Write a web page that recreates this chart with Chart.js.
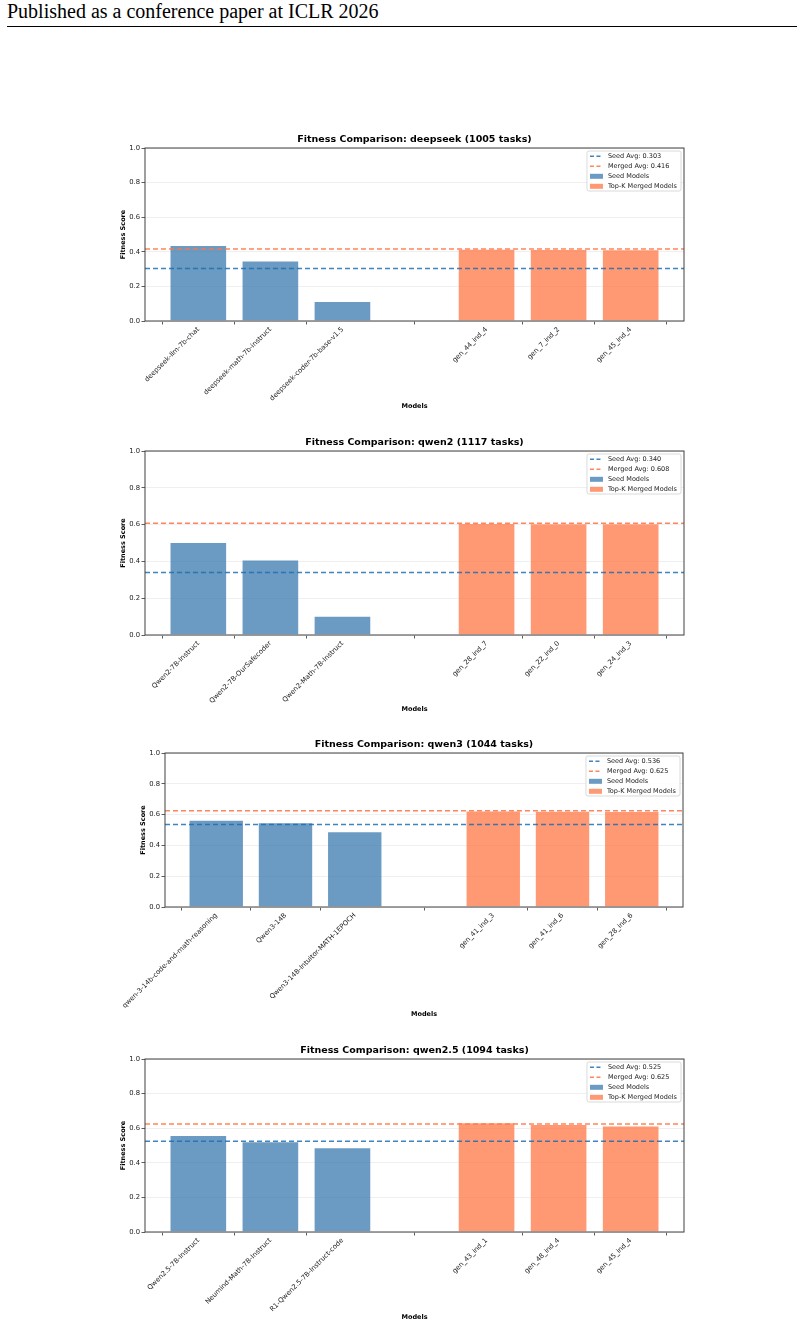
<!DOCTYPE html>
<html>
<head>
<meta charset="utf-8">
<script src="https://cdn.jsdelivr.net/npm/chart.js@4.4.0/dist/chart.umd.min.js"></script>
<style>
body{margin:0;width:804px;height:1327px;background:#fff;position:relative;overflow:hidden}
.header{position:absolute;left:7px;top:0px;font-family:"Liberation Serif",serif;font-size:20px;color:#000;white-space:nowrap}
.rule{position:absolute;left:7px;top:26px;width:790px;height:1px;background:#000}
canvas{position:absolute}
</style>
</head>
<body>
<div class="header">Published as a conference paper at ICLR 2026</div>
<div class="rule"></div>
<canvas id="c0"></canvas>
<canvas id="c1"></canvas>
<canvas id="c2"></canvas>
<canvas id="c3"></canvas>
<script>
// data
const families = ['deepseek', 'qwen2', 'qwen3', 'qwen2.5'];
const taskCounts = [1005, 1117, 1044, 1094];

const seedNames = [
    ['deepseek-llm-7b-chat', 'deepseek-math-7b-instruct', 'deepseek-coder-7b-base-v1.5'],
    ['Qwen2-7B-Instruct', 'Qwen2-7B-OurSafecoder', 'Qwen2-Math-7B-Instruct'],
    ['qwen-3-14b-code-and-math-reasoning', 'Qwen3-14B', 'Qwen3-14B-Intuitor-MATH-1EPOCH'],
    ['Qwen2.5-7B-Instruct', 'Neumind-Math-7B-Instruct', 'R1-Qwen2.5-7B-Instruct-code']
];
const seedScores = [
    [0.440, 0.350, 0.116],
    [0.505, 0.411, 0.105],
    [0.566, 0.551, 0.492],
    [0.560, 0.525, 0.490]
];
const mergedNames = [
    ['gen_44_ind_4', 'gen_7_ind_2', 'gen_45_ind_4'],
    ['gen_28_ind_7', 'gen_22_ind_0', 'gen_24_ind_3'],
    ['gen_41_ind_3', 'gen_41_ind_6', 'gen_28_ind_6'],
    ['gen_43_ind_1', 'gen_48_ind_4', 'gen_45_ind_4']
];
const mergedScores = [
    [0.418, 0.416, 0.415],
    [0.609, 0.608, 0.607],
    [0.627, 0.625, 0.624],
    [0.635, 0.625, 0.615]
];
const seedAvgs = [0.303, 0.340, 0.536, 0.525];
const mergedAvgs = [0.416, 0.608, 0.625, 0.625];
const yTicks = [0, 0.2, 0.4, 0.6, 0.8, 1.0];

// layout of each panel on the page
const panels = [
    {top: 130, plotTop: 148, plotBottom: 321, plotLeft: 145, plotRight: 684, bottom: 412, yTitleX: 123},
    {top: 433, plotTop: 451, plotBottom: 635, plotLeft: 145, plotRight: 684, bottom: 715, yTitleX: 123},
    {top: 735, plotTop: 753, plotBottom: 907, plotLeft: 165, plotRight: 683, bottom: 1020, yTitleX: 143},
    {top: 1041, plotTop: 1059, plotBottom: 1232, plotLeft: 145, plotRight: 684, bottom: 1323, yTitleX: 123}
];

const CANVAS_LEFT = 100;
const CANVAS_W = 604;
const X_MIN = -0.74;
const X_MAX = 6.74;
const FONT = '"DejaVu Sans", sans-serif';

const seedColor = 'rgba(70,130,180,0.8)';
const mergedColor = 'rgba(255,127,80,0.8)';
const seedLine = 'rgba(31,110,180,0.85)';
const mergedLine = 'rgba(255,120,75,0.9)';

// frame, title and legend drawn inside the axes
const framePlugin = {
    id: 'frame',
    afterDatasetsDraw(chart, args, opts) {
        const ctx = chart.ctx;
        const a = chart.chartArea;
        ctx.save();
        ctx.strokeStyle = '#404040';
        ctx.lineWidth = 1;
        ctx.strokeRect(a.left, a.top, a.right - a.left, a.bottom - a.top);

        ctx.fillStyle = '#000';
        ctx.font = 'bold 9.5px ' + FONT;
        ctx.textAlign = 'center';
        ctx.textBaseline = 'middle';
        ctx.fillText(opts.title, (a.left + a.right) / 2, a.top - 8);

        // legend
        ctx.font = '6.5px ' + FONT;
        const items = chart.data.datasets;
        let maxW = 0;
        items.forEach(d => { maxW = Math.max(maxW, ctx.measureText(d.label).width); });
        const rowH = 10;
        const boxW = 3 + 13 + 5 + maxW + 4;
        const boxH = items.length * rowH;
        const bx = a.right - 3 - boxW;
        const by = a.top + 3;
        ctx.fillStyle = 'rgba(255,255,255,0.85)';
        ctx.strokeStyle = '#d0d0d0';
        ctx.lineWidth = 0.8;
        ctx.beginPath();
        ctx.roundRect(bx, by, boxW, boxH, 2);
        ctx.fill();
        ctx.stroke();
        ctx.textAlign = 'left';
        items.forEach((d, i) => {
            const cy = by + rowH * i + rowH / 2 + 0.3;
            if (d.type === 'line') {
                ctx.strokeStyle = d.borderColor;
                ctx.lineWidth = 1.5;
                ctx.setLineDash([4, 2.5]);
                ctx.beginPath();
                ctx.moveTo(bx + 3, cy);
                ctx.lineTo(bx + 16, cy);
                ctx.stroke();
                ctx.setLineDash([]);
            } else {
                ctx.fillStyle = d.backgroundColor;
                ctx.fillRect(bx + 3, cy - 2.5, 13, 5);
            }
            ctx.fillStyle = '#222';
            ctx.fillText(d.label, bx + 21, cy);
        });
        ctx.restore();
    }
};

function makeChart(k) {
    const p = panels[k];
    const canvas = document.getElementById('c' + k);
    canvas.width = CANVAS_W;
    canvas.height = p.bottom - p.top;
    canvas.style.left = CANVAS_LEFT + 'px';
    canvas.style.top = p.top + 'px';

    const nSeed = seedNames[k].length;
    const tickNames = {};
    seedNames[k].forEach((n, i) => { tickNames[i] = n; });
    mergedNames[k].forEach((n, i) => { tickNames[nSeed + 1 + i] = n; });

    const seedData = seedScores[k].map((v, i) => ({x: i, y: v}));
    const mergedData = mergedScores[k].map((v, i) => ({x: nSeed + 1 + i, y: v}));

    new Chart(canvas, {
        type: 'bar',
        data: {
            datasets: [
                {
                    type: 'line',
                    label: 'Seed Avg: ' + seedAvgs[k].toFixed(3),
                    data: [{x: X_MIN, y: seedAvgs[k]}, {x: X_MAX, y: seedAvgs[k]}],
                    borderColor: seedLine,
                    borderWidth: 1.5,
                    borderDash: [5, 3],
                    pointRadius: 0,
                    order: 0
                },
                {
                    type: 'line',
                    label: 'Merged Avg: ' + mergedAvgs[k].toFixed(3),
                    data: [{x: X_MIN, y: mergedAvgs[k]}, {x: X_MAX, y: mergedAvgs[k]}],
                    borderColor: mergedLine,
                    borderWidth: 1.5,
                    borderDash: [5, 3],
                    pointRadius: 0,
                    order: 0
                },
                {
                    label: 'Seed Models',
                    data: seedData,
                    backgroundColor: seedColor,
                    borderColor: 'rgba(255,255,255,0.6)',
                    borderWidth: 1,
                    grouped: false,
                    barPercentage: 0.8,
                    categoryPercentage: 1,
                    order: 1
                },
                {
                    label: 'Top-K Merged Models',
                    data: mergedData,
                    backgroundColor: mergedColor,
                    borderColor: 'rgba(255,255,255,0.6)',
                    borderWidth: 1,
                    grouped: false,
                    barPercentage: 0.8,
                    categoryPercentage: 1,
                    order: 1
                }
            ]
        },
        options: {
            responsive: false,
            animation: false,
            layout: {
                padding: {top: p.plotTop - p.top, right: CANVAS_LEFT + CANVAS_W - p.plotRight, left: 0, bottom: 0}
            },
            plugins: {
                legend: {display: false},
                tooltip: {enabled: false},
                frame: {title: 'Fitness Comparison: ' + families[k] + ' (' + taskCounts[k] + ' tasks)'}
            },
            scales: {
                x: {
                    type: 'linear',
                    min: X_MIN,
                    max: X_MAX,
                    offset: false,
                    border: {display: false},
                    grid: {display: true, drawOnChartArea: false, tickLength: 3.5, color: '#333', lineWidth: 0.8},
                    afterBuildTicks: (scale) => {
                        scale.ticks = Object.keys(tickNames).map(v => ({value: Number(v)}));
                    },
                    afterFit: (scale) => { scale.height = p.bottom - p.plotBottom; },
                    ticks: {
                        autoSkip: false,
                        minRotation: 45,
                        maxRotation: 45,
                        padding: 1,
                        color: '#222',
                        font: {family: FONT, size: 6.8},
                        callback: (v) => tickNames[v] || ''
                    },
                    title: {
                        display: true,
                        text: 'Models',
                        color: '#000',
                        padding: {top: 0, bottom: 2},
                        font: {family: FONT, size: 6.5, weight: 'bold'}
                    }
                },
                y: {
                    min: 0,
                    max: 1,
                    border: {display: false},
                    grid: {color: '#ebebeb', lineWidth: 0.8, tickLength: 3.5, tickColor: '#333'},
                    afterBuildTicks: (scale) => {
                        scale.ticks = yTicks.map(v => ({value: v}));
                    },
                    afterFit: (scale) => { scale.width = p.plotLeft - CANVAS_LEFT; },
                    ticks: {
                        padding: 1.5,
                        color: '#222',
                        font: {family: FONT, size: 6.8},
                        callback: (v) => Number(v).toFixed(1)
                    },
                    title: {
                        display: true,
                        text: 'Fitness Score',
                        color: '#000',
                        padding: {top: p.yTitleX - CANVAS_LEFT - 3.9, bottom: 0},
                        font: {family: FONT, size: 6.5, weight: 'bold'}
                    }
                }
            }
        },
        plugins: [framePlugin]
    });
}

families.forEach((f, k) => makeChart(k));
</script>
</body>
</html>
